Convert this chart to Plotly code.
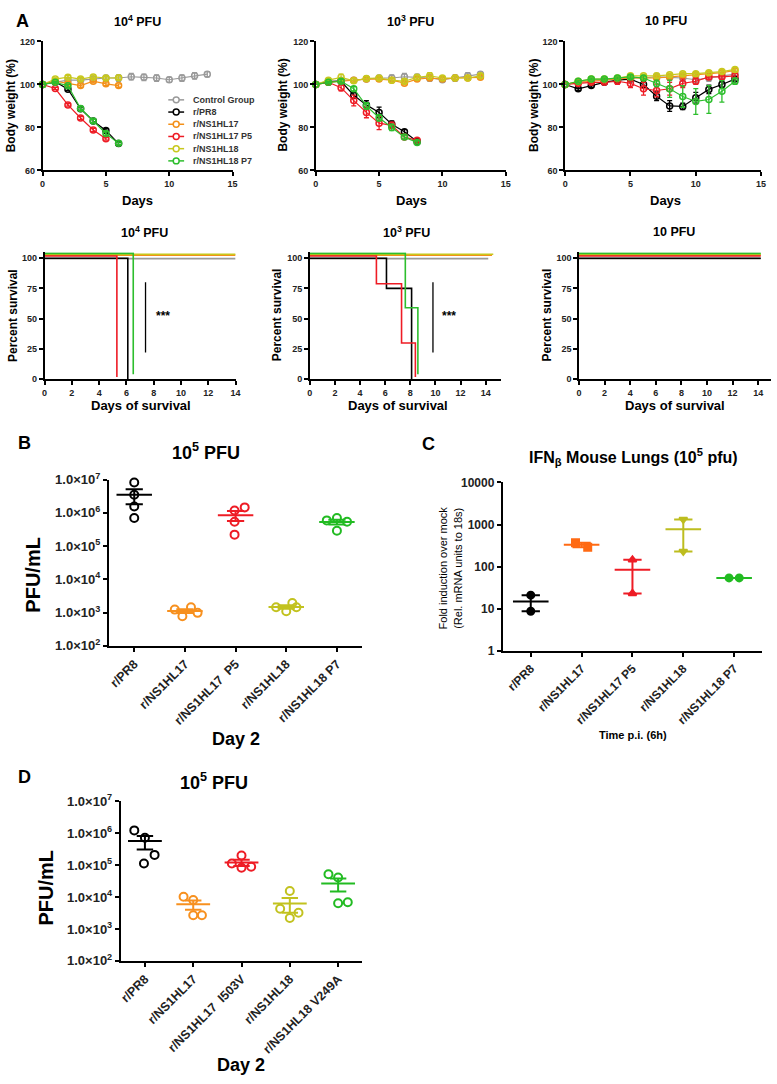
import numpy as np
import plotly.graph_objects as go

W, H = 777, 1084
FONT = "Liberation Sans"

# ---------------- data ----------------
groups = ["Control Group", "r/PR8", "r/NS1HL17", "r/NS1HL17 P5", "r/NS1HL18", "r/NS1HL18 P7"]
colors = ["#9a9a9a", "#000000", "#F39019", "#EE1C25", "#C8C81E", "#2DBE2D"]

# body weight (%) by day, control group shared by the three doses
bw_ctrl = [100, 101, 102, 102, 102.5, 103, 103, 103.6, 103.3, 103, 102.2, 103, 104, 104.8]
bw_ctrl_err = [0, 0.8, 1, 1, 1, 1.2, 1.5, 1.5, 1.5, 1.5, 1.2, 1.5, 1.5, 1.2]

bw_1e4 = {
    "r/PR8": [100, 101.3, 97.8, 88.7, 83, 78.6, 72.5],
    "r/NS1HL17": [100, 101.5, 100.5, 99.5, 101.5, 100.3, 99.5],
    "r/NS1HL17 P5": [100, 98.1, 90.5, 84.4, 78.8, 74.7],
    "r/NS1HL18": [100, 102.5, 103.4, 102.5, 103.5, 103, 103.1],
    "r/NS1HL18 P7": [100, 101, 99.4, 88.8, 83, 77.2, 72.6],
}
bw_1e4_err = {
    "r/PR8": [0, 0.5, 0.6, 0.8, 0.8, 0.8, 0.6],
    "r/NS1HL17": [0, 0.5, 0.8, 0.8, 0.8, 0.8, 0.8],
    "r/NS1HL17 P5": [0, 0.5, 0.6, 0.8, 0.8, 0.6],
    "r/NS1HL18": [0, 0.5, 0.8, 0.8, 0.8, 0.8, 0.8],
    "r/NS1HL18 P7": [0, 0.5, 0.6, 0.8, 0.8, 0.8, 0.6],
}

bw_1e3 = {
    "r/PR8": [100, 101.4, 101.5, 95, 90.5, 87, 81.5, 78, 73.5],
    "r/NS1HL17": [100, 101, 101.5, 102, 102.5, 102.5, 102, 100.6, 102.5, 103, 102.5, 103, 103, 103.3],
    "r/NS1HL17 P5": [100, 101, 98.5, 92.5, 87, 82, 81, 75.5, 74],
    "r/NS1HL18": [100, 102, 103.3, 101.7, 102.8, 103, 102, 101.5, 103.3, 104, 103, 103, 103, 104],
    "r/NS1HL18 P7": [100, 101, 101.5, 98, 90, 84.5, 80, 75.5, 73],
}
bw_1e3_err = {
    "r/PR8": [0, 0.5, 0.5, 1.5, 2, 2.5, 1.5, 1, 0.5],
    "r/NS1HL17": [0, 0.5, 0.8, 0.8, 0.8, 0.8, 0.8, 0.8, 0.8, 0.8, 0.8, 0.8, 0.8, 0.8],
    "r/NS1HL17 P5": [0, 0.5, 1.5, 2.5, 2.5, 3, 1.5, 1, 0.5],
    "r/NS1HL18": [0, 0.8, 1.5, 1, 1, 1, 1, 1, 1, 1.5, 1, 1, 1, 1],
    "r/NS1HL18 P7": [0, 0.5, 0.8, 1, 1.5, 1.5, 1.5, 1, 0.8],
}

bw_10 = {
    "r/PR8": [100, 98, 99.5, 101, 102, 102.5, 100, 94.5, 90, 89.8, 93.8, 97.7, 100, 102.5],
    "r/NS1HL17": [100, 101, 101.5, 102, 102.5, 103, 103, 103, 103.5, 104, 104.5, 105, 105.5, 106.5],
    "r/NS1HL17 P5": [100, 100.5, 101, 101, 101.5, 100.5, 98, 97.2, 98, 100.5, 101.5, 103.5, 103.5, 104],
    "r/NS1HL18": [100, 101.5, 102.5, 102.5, 103, 104, 104, 104, 104.5, 105, 105, 105.5, 106, 107],
    "r/NS1HL18 P7": [100, 101.5, 102.5, 102.5, 103, 103.5, 103, 100.5, 98, 94.4, 92.1, 93, 96.8, 101.5],
}
bw_10_err = {
    "r/PR8": [0, 0.8, 0.8, 0.8, 0.8, 1, 1.5, 2, 2.5, 1.5, 2.5, 2, 1.5, 1],
    "r/NS1HL17": [0, 0.5, 0.5, 0.5, 0.5, 0.8, 0.8, 0.8, 0.8, 0.8, 0.8, 0.8, 0.8, 0.8],
    "r/NS1HL17 P5": [0, 0.5, 0.5, 0.8, 1.5, 2, 3, 3, 3, 2, 1.5, 1, 1, 1],
    "r/NS1HL18": [0, 0.5, 0.5, 0.5, 0.5, 0.8, 0.8, 0.8, 0.8, 0.8, 0.8, 0.8, 0.8, 0.8],
    "r/NS1HL18 P7": [0, 0.5, 0.5, 0.5, 0.5, 0.8, 1, 1.5, 4, 5, 6, 6.5, 5, 1.5],
}

# survival (days, percent) step curves
surv_1e4 = {
    "Control Group": ([0, 14], [100, 100]),
    "r/PR8": ([0, 6.1], [100, 0]),
    "r/NS1HL17": ([0, 14], [100, 100]),
    "r/NS1HL17 P5": ([0, 5.3], [100, 0]),
    "r/NS1HL18": ([0, 14], [100, 100]),
    "r/NS1HL18 P7": ([0, 6.5], [100, 0]),
}
surv_1e3 = {
    "Control Group": ([0, 14.2], [100, 100]),
    "r/PR8": ([0, 6.1, 8.1], [100, 75, 0]),
    "r/NS1HL17": ([0, 14.5], [100, 100]),
    "r/NS1HL17 P5": ([0, 5.3, 7.3, 8.4], [100, 77, 28, 0]),
    "r/NS1HL18": ([0, 14.6], [100, 100]),
    "r/NS1HL18 P7": ([0, 7.6, 8.6], [100, 55, 0]),
}
surv_10 = {g: ([0, 14.2], [100, 100]) for g in groups}
surv_offset = [-0.4, 0, 2.5, 1.8, 3.2, 4.0]   # GraphPad-style stacking of overlapping lines
sig_days = [7.4, 9.8]
sig_span = [22, 80]

# panel B: PFU/mL, day 2, 1e5 PFU
b_labels = ["r/PR8", "r/NS1HL17", "r/NS1HL17\u00a0\u00a0P5", "r/NS1HL18", "r/NS1HL18 P7"]
b_pr8 = [8.1e6, 3.5e6, 1.55e6, 7.0e5]
b_hl17 = [1230, 780, 1440, 980]
b_hl17p5 = [1.17e6, 1.45e6, 5.4e5, 2.2e5]
b_hl18 = [1440, 1100, 1950, 1440]
b_hl18p7 = [5.9e5, 7.0e5, 5.4e5, 2.9e5]
b_jitter = [[0, 0, 0, 0], [-0.2, -0.05, 0.12, 0.25], [-0.02, 0.18, -0.02, -0.02],
            [-0.2, 0, 0.12, 0.2], [-0.2, 0, 0.2, 0]]

# panel C: IFN-beta fold induction
c_labels = ["r/PR8", "r/NS1HL17", "r/NS1HL17 P5", "r/NS1HL18", "r/NS1HL18 P7"]
c_pr8 = [21, 8.7]
c_hl17 = [370, 290]
c_hl17p5 = [145, 23]
c_hl18 = [1320, 230]
c_hl18p7 = [54, 54]
c_jitter = [[0, 0], [-0.12, 0.12], [0, 0], [0, 0], [-0.1, 0.1]]
c_symbols = ["circle", "square", "triangle-up", "triangle-down", "circle"]

# panel D: PFU/mL, day 2, 1e5 PFU
d_labels = ["r/PR8", "r/NS1HL17", "r/NS1HL17\u00a0\u00a0I503V", "r/NS1HL18", "r/NS1HL18 V249A"]
d_pr8 = [1.23e6, 7.2e5, 2.1e5, 1.12e5]
d_hl17 = [1.02e4, 8.1e3, 2.7e3, 2.7e3]
d_hl17i = [2.0e5, 1.12e5, 8.3e4, 8.9e4]
d_hl18 = [1.55e4, 4.3e3, 3.2e3, 2.2e3]
d_hl18v = [5.2e4, 4.1e4, 6.4e3, 6.9e3]
d_jitter = [[-0.22, 0, 0.2, -0.02], [-0.2, 0, 0, 0.18], [0, -0.2, 0, 0.2],
            [0, -0.2, 0.18, 0], [-0.2, 0, 0, 0.2]]

dot_colors = ["#000000", "#F7901E", "#EE1C25", "#C2C21F", "#22BB22"]

# ---------------- figure ----------------
fig = go.Figure()
axes = {}
ann = []
shapes = []


def ref(n, k):
    return k if n == 1 else f"{k}{n}"


def base_axis(lw, size):
    return dict(showline=True, linecolor="black", linewidth=lw, ticks="outside",
                ticklen=4, tickwidth=lw, tickcolor="black", showgrid=False,
                zeroline=False,
                tickfont=dict(family=FONT, size=size, color="#222", weight="bold"))


def add_axes(n, xpx, ypx, xkw, ykw, lw=1.5, size=9):
    xa = base_axis(lw, size)
    xa.update(domain=[xpx[0] / W, xpx[1] / W], anchor=ref(n, "y"))
    xa.update(xkw)
    ya = base_axis(lw, size)
    ya.update(domain=[1 - ypx[1] / H, 1 - ypx[0] / H], anchor=ref(n, "x"))
    ya.update(ykw)
    axes["xaxis" if n == 1 else f"xaxis{n}"] = xa
    axes["yaxis" if n == 1 else f"yaxis{n}"] = ya


def label(x, y, text, size, bold=True, angle=0, xanchor="center", color="black"):
    ann.append(dict(x=x / W, y=1 - y / H, xref="paper", yref="paper",
                    text=f"<b>{text}</b>" if bold else text, showarrow=False,
                    font=dict(family=FONT, size=size, color=color),
                    textangle=angle, xanchor=xanchor, yanchor="middle"))


# --- A: body weight ---
bw_sets = [(bw_1e4, bw_1e4_err), (bw_1e3, bw_1e3_err), (bw_10, bw_10_err)]
bw_x = [(40, 232), (316, 508), (568, 766)]
for n, (vals, errs), xpx in zip([1, 2, 3], bw_sets, bw_x):
    add_axes(n, xpx, (33, 164), dict(range=[0, 15], tickvals=[0, 5, 10, 15]),
             dict(range=[60, 120], tickvals=[60, 80, 100, 120]))
    for g, c in zip(groups, colors):
        y = bw_ctrl if g == "Control Group" else vals[g]
        e = bw_ctrl_err if g == "Control Group" else errs[g]
        fig.add_trace(go.Scatter(
            x=list(range(len(y))), y=y, mode="lines+markers",
            line=dict(color=c, width=1.2),
            marker=dict(symbol="circle-open", size=6, color=c, line=dict(width=1.5)),
            error_y=dict(type="data", array=e, color=c, thickness=1.3, width=2.5),
            xaxis=ref(n, "x"), yaxis=ref(n, "y"), cliponaxis=False, showlegend=False))

# --- A: survival ---
surv_sets = [surv_1e4, surv_1e3, surv_10]
surv_x = [(42, 235, 14), (310, 503, 15.2), (582, 776, 15.0)]
for k, (sv, (x0, x1, xmax)) in enumerate(zip(surv_sets, surv_x)):
    n = 4 + k
    add_axes(n, (x0, x1), (247, 376),
             dict(range=[0, xmax], tickvals=list(range(0, 15, 2))),
             dict(range=[0, 105], tickvals=[0, 25, 50, 75, 100]))
    for g, c, off in zip(groups, colors, surv_offset):
        t, s = sv[g]
        fig.add_trace(go.Scatter(
            x=t, y=[v + off for v in s], mode="lines", line=dict(color=c, width=1.6, shape="hv"),
            xaxis=ref(n, "x"), yaxis=ref(n, "y"), cliponaxis=False, showlegend=False))
    if k < 2:
        fig.add_trace(go.Scatter(x=[sig_days[k], sig_days[k]], y=sig_span, mode="lines",
                                 line=dict(color="black", width=1.3),
                                 xaxis=ref(n, "x"), yaxis=ref(n, "y"), showlegend=False))
        ann.append(dict(x=sig_days[k] + 1.3, y=52, xref=ref(n, "x"), yref=ref(n, "y"),
                        text="<b>***</b>", showarrow=False,
                        font=dict(family=FONT, size=12, color="black")))


# --- B, C, D: scatter with mean ---
def dot_panel(n, data, jit, cols, symbols=None, spread="sem", half=0.35, cap=0.17,
              filled=False, size=8):
    for i, (vals, jj, c) in enumerate(zip(data, jit, cols)):
        v = np.array(vals, dtype=float)
        m = v.mean()
        if spread == "sem":
            s = v.std(ddof=1) / np.sqrt(len(v))
            lo, hi = m - s, m + s
        else:
            lo, hi = v.min(), v.max()
        sym = symbols[i] if symbols else "circle"
        fig.add_trace(go.Scatter(
            x=[i, i, None, i - cap, i + cap, None, i - cap, i + cap, None, i - half, i + half],
            y=[lo, hi, None, hi, hi, None, lo, lo, None, m, m],
            mode="lines", line=dict(color=c, width=2),
            xaxis=ref(n, "x"), yaxis=ref(n, "y"), showlegend=False))
        fig.add_trace(go.Scatter(
            x=[i + j for j in jj], y=v, mode="markers",
            marker=dict(symbol=sym if filled else sym + "-open", size=size, color=c,
                        line=dict(width=2, color=c)),
            xaxis=ref(n, "x"), yaxis=ref(n, "y"), cliponaxis=False, showlegend=False))


pfu_ticks = dict(type="log", range=[2, 7], tickvals=[10 ** k for k in range(2, 8)],
                 ticktext=[f"1.0×10<sup>{k}</sup>" for k in range(2, 8)])
cat_font = dict(family=FONT, size=12.5, color="#222", weight="bold")

add_axes(7, (107, 363), (478, 647),
         dict(range=[-0.5, 4.5], tickvals=list(range(5)), ticktext=b_labels,
              tickangle=-45, tickfont=cat_font),
         pfu_ticks, lw=2, size=13)
dot_panel(7, [b_pr8, b_hl17, b_hl17p5, b_hl18, b_hl18p7], b_jitter, dot_colors)

add_axes(8, (505, 767), (481, 652),
         dict(range=[-0.55, 4.55], tickvals=list(range(5)), ticktext=c_labels,
              tickangle=-45, tickfont=dict(cat_font, size=12)),
         dict(type="log", range=[0, 4], tickvals=[1, 10, 100, 1000, 10000],
              ticktext=["1", "10", "100", "1000", "10000"]), lw=2, size=12)
dot_panel(8, [c_pr8, c_hl17, c_hl17p5, c_hl18, c_hl18p7], c_jitter,
          ["#000000", "#FF6A13", "#EE1C25", "#BDBD1F", "#22BB22"],
          symbols=c_symbols, spread="range", cap=0.18, filled=True, size=7)

add_axes(9, (119, 363), (805, 967),
         dict(range=[-0.5, 4.5], tickvals=list(range(5)), ticktext=d_labels,
              tickangle=-45, tickfont=cat_font),
         pfu_ticks, lw=2, size=13)
dot_panel(9, [d_pr8, d_hl17, d_hl17i, d_hl18, d_hl18v], d_jitter, dot_colors)

# --- legend (drawn by hand to match the compact GraphPad key) ---
for i, (g, c) in enumerate(zip(groups, colors)):
    yy = 1 - (92.3 + 12.4 * i) / H
    shapes.append(dict(type="line", xref="paper", yref="paper", x0=167 / W, x1=183 / W,
                       y0=yy, y1=yy, line=dict(color=c, width=1.5)))
    shapes.append(dict(type="circle", xref="paper", yref="paper",
                       x0=172 / W, x1=178 / W, y0=yy - 3 / H, y1=yy + 3 / H,
                       line=dict(color=c, width=1.5), fillcolor="white"))
    label(190, 92.3 + 12.4 * i, g, 9, xanchor="left", color="#333")

# --- text ---
for xc, ttl in zip([136, 412, 670], ["10<sup>4</sup> PFU", "10<sup>3</sup> PFU", "10 PFU"]):
    label(xc, 12, ttl, 12.5)
for xc in [136, 413, 669]:
    label(xc, 195, "Days", 13)
for xc in [9, 283, 537]:
    label(xc, 98, "Body weight (%)", 12, angle=-90)

for xc, ttl in zip([143, 408, 678], ["10<sup>4</sup> PFU", "10<sup>3</sup> PFU", "10 PFU"]):
    label(xc, 227, ttl, 12.5)
for xc in [139, 399, 679]:
    label(xc, 403, "Days of survival", 13)
for xc in [10, 277, 550]:
    label(xc, 311, "Percent survival", 12, angle=-90)

label(20, 12, "A", 18)
label(22, 441, "B", 18)
label(430, 442, "C", 18)
label(22, 780, "D", 18)

label(205, 450, "10<sup>5</sup> PFU", 18)
label(30, 575, "PFU/mL", 20, angle=-90)
label(235, 742, "Day 2", 18)

label(637, 455, "IFN<sub>β</sub> Mouse Lungs (10<sup>5</sup> pfu)", 16)
label(452, 568, "Fold induction over mock<br>(Rel. mRNA units to 18s)", 11, bold=False, angle=-90)
label(637, 738, "Time p.i. (6h)", 11)

label(213, 785, "10<sup>5</sup> PFU", 18)
label(43, 893, "PFU/mL", 20, angle=-90)
label(240, 1073, "Day 2", 18)

fig.update_layout(
    width=W, height=H,
    margin=dict(l=0, r=0, t=0, b=0),
    paper_bgcolor="white", plot_bgcolor="white",
    showlegend=False,
    font=dict(family=FONT, color="black"),
    annotations=ann, shapes=shapes,
    **axes,
)

# drop the default page margin so the 777x1084 figure fills the window exactly
fig.write_html("out.html", config={"displayModeBar": False},
               post_script="document.body.style.margin='0';document.body.style.overflow='hidden';")
